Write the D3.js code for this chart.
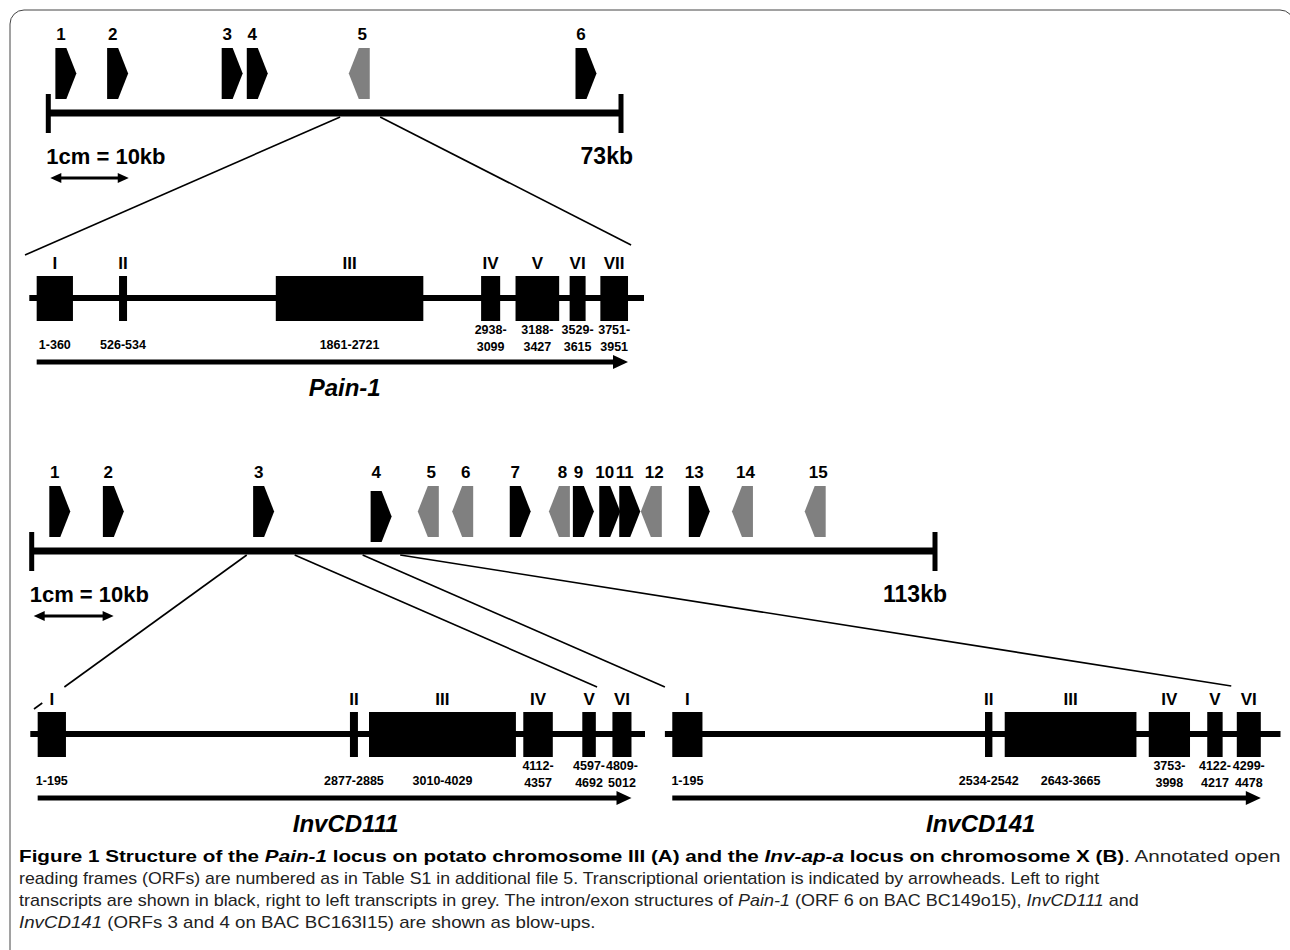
<!DOCTYPE html>
<html>
<head>
<meta charset="utf-8">
<script src="https://cdn.jsdelivr.net/npm/d3@7"></script>
<style>
  body { margin: 0; background: #fff; }
  svg text { font-family: "Liberation Sans", Arial, sans-serif; }
</style>
</head>
<body>
<script>
// ---- locus A : Pain-1 region, 73 kb. ORF left edge in kb, strand (+1 right, -1 left)
var orfA_names  = ["1", "2", "3", "4", "5", "6"];
var orfA_kb     = [0.9, 7.5, 22.1, 25.3, 38.3, 67.2];
var orfA_strand = [1, 1, 1, 1, -1, 1];
var lenA = 73;

// ---- locus B : Inv-ap-a region, 113 kb
var orfB_names  = ["1","2","3","4","5","6","7","8","9","10","11","12","13","14","15"];
var orfB_kb     = [2.2, 8.9, 27.7, 42.4, 48.3, 52.6, 59.8, 64.7, 67.7, 71.0, 73.5, 76.2, 82.2, 87.6, 96.7];
var orfB_strand = [1, 1, 1, 1, -1, -1, 1, -1, 1, 1, 1, -1, 1, -1, -1];
var lenB = 113;

// ---- exon structures (drawn extent along the intron line, 0-1000, and bp ranges)
var exonNums = ["I", "II", "III", "IV", "V", "VI", "VII"];

var pain1Ranges = ["1-360", "526-534", "1861-2721", "2938-3099", "3188-3427", "3529-3615", "3751-3951"];
var pain1Start  = [12, 146, 401, 735, 791, 879, 929];
var pain1End    = [71, 159, 641, 766, 862, 905, 974];

var inv111Ranges = ["1-195", "2877-2885", "3010-4029", "4112-4357", "4597-4692", "4809-5012"];
var inv111Start  = [12, 520, 551, 802, 898, 947];
var inv111End    = [58, 533, 790, 850, 920, 978];

var inv141Ranges = ["1-195", "2534-2542", "2643-3665", "3753-3998", "4122-4217", "4299-4478"];
var inv141Start  = [12, 520, 552, 786, 881, 929];
var inv141End    = [61, 532, 766, 853, 906, 968];

// blow-up lines: locus position (kb) -> gene position (0-1000)
var linkKb   = [37.2, 42.3, 26.9, 32.9, 41.4, 46.1];
var linkGene = ["Pain-1", "Pain-1", "InvCD111", "InvCD111", "InvCD141", "InvCD141"];
var linkUnit = [-7, 979, 6, 922, 0, 920];

// caption, one array per line: [text, style]
var captionLines = [
  [["Figure 1 Structure of the ", "b"], ["Pain-1", "bi"], [" locus on potato chromosome III (A) and the ", "b"],
   ["Inv-ap-a", "bi"], [" locus on chromosome X (B)", "b"], [". Annotated open", ""]],
  [["reading frames (ORFs) are numbered as in Table S1 in additional file 5. Transcriptional orientation is indicated by arrowheads. Left to right", ""]],
  [["transcripts are shown in black, right to left transcripts in grey. The intron/exon structures of ", ""], ["Pain-1", "i"],
   [" (ORF 6 on BAC BC149o15), ", ""], ["InvCD111", "i"], [" and", ""]],
  [["InvCD141", "i"], [" (ORFs 3 and 4 on BAC BC163I15) are shown as blow-ups.", ""]]
];

var svg = d3.select("body").append("svg")
    .attr("width", 1290)
    .attr("height", 950);

// frame (right and bottom edges run off the page)
svg.append("rect")
    .attr("x", 10).attr("y", 10)
    .attr("width", 1284).attr("height", 980)
    .attr("rx", 14)
    .attr("fill", "none")
    .attr("stroke", "#444")
    .attr("stroke-width", 1);

function orfPath(x, y, strand) {
  var w = 21, r = 11, h = 51;
  if (strand > 0)
    return "M" + x + "," + y + "H" + (x + r) + "L" + (x + w) + "," + (y + h / 2) +
           "L" + (x + r) + "," + (y + h) + "H" + x + "Z";
  return "M" + (x + w) + "," + y + "H" + (x + w - r) + "L" + x + "," + (y + h / 2) +
         "L" + (x + w - r) + "," + (y + h) + "H" + (x + w) + "Z";
}

function drawLocus(names, kb, strand, len, x0, x1, lineY, lenLabel, lowered) {
  var x = d3.scaleLinear().domain([0, len]).range([x0, x1]);
  var g = svg.append("g");

  g.append("line")
      .attr("x1", x(0)).attr("x2", x(len))
      .attr("y1", lineY).attr("y2", lineY)
      .attr("stroke", "#000").attr("stroke-width", 7);

  g.selectAll(".tick").data([0, len]).enter().append("line")
      .attr("x1", d => x(d)).attr("x2", d => x(d))
      .attr("y1", lineY - 19).attr("y2", lineY + 20)
      .attr("stroke", "#000").attr("stroke-width", 5);

  var orfs = names.map((n, i) => ({name: n, kb: kb[i], strand: strand[i], dy: n === lowered ? 5 : 0}));

  g.selectAll(".orf").data(orfs).enter().append("path")
      .attr("d", d => orfPath(x(d.kb), lineY - 65 + d.dy, d.strand))
      .attr("fill", d => d.strand > 0 ? "#000" : "#808080");

  g.selectAll(".orflab").data(orfs).enter().append("text")
      .attr("x", d => x(d.kb) + (d.strand > 0 ? 5.5 : 13.5))
      .attr("y", lineY - 73)
      .attr("text-anchor", "middle")
      .attr("font-size", 17).attr("font-weight", "bold")
      .text(d => d.name);

  // scale bar text + length
  g.append("text")
      .attr("x", x(0) - 2).attr("y", lineY + 51)
      .attr("font-size", 22).attr("font-weight", "bold")
      .text("1cm = 10kb");
  g.append("text")
      .attr("x", x(len) + 12).attr("y", lineY + 51)
      .attr("text-anchor", "end")
      .attr("font-size", 23).attr("font-weight", "bold")
      .text(lenLabel);

  // double arrow = 10 kb
  var ay = lineY + 65, ax0 = x(0) + 2, ax1 = x(10) + 2;
  g.append("line")
      .attr("x1", ax0 + 8).attr("x2", ax1 - 8)
      .attr("y1", ay).attr("y2", ay)
      .attr("stroke", "#000").attr("stroke-width", 3);
  g.append("path").attr("d", "M" + ax0 + "," + ay + "l11,-5v10z");
  g.append("path").attr("d", "M" + ax1 + "," + ay + "l-11,-5v10z");
  return x;
}

function drawGene(ranges, st, en, x0, x1, Y, name) {
  var x = d3.scaleLinear().domain([0, 1000]).range([x0, x1]);
  var g = svg.append("g");
  var exons = ranges.map((r, i) => ({num: exonNums[i], range: r, s: st[i], e: en[i]}));
  exons.forEach(d => d.c = (x(d.s) + x(d.e)) / 2);

  g.append("line")
      .attr("x1", x(0)).attr("x2", x(1000))
      .attr("y1", Y).attr("y2", Y)
      .attr("stroke", "#000").attr("stroke-width", 6);

  g.selectAll(".exon").data(exons).enter().append("rect")
      .attr("x", d => x(d.s)).attr("width", d => x(d.e) - x(d.s))
      .attr("y", Y - 22).attr("height", 45)
      .attr("fill", "#000");

  g.selectAll(".num").data(exons).enter().append("text")
      .attr("x", d => d.c).attr("y", Y - 29)
      .attr("text-anchor", "middle")
      .attr("font-size", 17).attr("font-weight", "bold")
      .text(d => d.num);

  // range labels: split in two lines when neighbours are close
  exons.forEach((d, i) => {
    var prev = i > 0 ? d.c - exons[i - 1].c : 999;
    var next = i < exons.length - 1 ? exons[i + 1].c - d.c : 999;
    var t = g.append("text")
        .attr("text-anchor", "middle")
        .attr("font-size", 12.5).attr("font-weight", "bold");
    if (Math.min(prev, next) < 60) {
      var p = d.range.split("-");
      t.append("tspan").attr("x", d.c).attr("y", Y + 36).text(p[0] + "-");
      t.append("tspan").attr("x", d.c).attr("y", Y + 53).text(p[1]);
    } else {
      t.attr("x", d.c).attr("y", Y + 51).text(d.range);
    }
  });

  // transcript arrow
  var a0 = x(st[0]), a1 = x(en[en.length - 1]), ay = Y + 64;
  g.append("line")
      .attr("x1", a0).attr("x2", a1 - 12)
      .attr("y1", ay).attr("y2", ay)
      .attr("stroke", "#000").attr("stroke-width", 5);
  g.append("path").attr("d", "M" + a1 + "," + ay + "l-15,-7v14z");

  g.append("text")
      .attr("x", (x(0) + x(1000)) / 2 + 8).attr("y", Y + 98)
      .attr("text-anchor", "middle")
      .attr("font-size", 24).attr("font-weight", "bold").attr("font-style", "italic")
      .text(name);
  return x;
}

// blow-up lines are drawn first so the marks sit on top
var linkLayer = svg.append("g");

var xA = drawLocus(orfA_names, orfA_kb, orfA_strand, lenA, 48.3, 621, 113, "73kb", null);
var xB = drawLocus(orfB_names, orfB_kb, orfB_strand, lenB, 31.7, 935, 551, "113kb", "4");

var genes = {
  "Pain-1":   {x: drawGene(pain1Ranges, pain1Start, pain1End, 29.3, 644, 298, "Pain-1"), Y: 298, locus: xA, lineY: 113},
  "InvCD111": {x: drawGene(inv111Ranges, inv111Start, inv111End, 30.3, 645, 734, "InvCD111"), Y: 734, locus: xB, lineY: 551},
  "InvCD141": {x: drawGene(inv141Ranges, inv141Start, inv141End, 664.9, 1280.5, 734, "InvCD141"), Y: 734, locus: xB, lineY: 551}
};

// how far above the intron line each blow-up line stops
var linkDrop = [43, 53, 25, 47, 47, 48];

linkKb.forEach((k, i) => {
  var gn = genes[linkGene[i]];
  var p0 = [gn.locus(k), gn.lineY + 4];
  var p1 = [gn.x(linkUnit[i]), gn.Y - linkDrop[i]];
  var segs = [[p0, p1]];
  if (i === 2) {
    // the first InvCD111 line is interrupted behind the exon label "I"
    var at = y => [p0[0] + (p1[0] - p0[0]) * (y - p0[1]) / (p1[1] - p0[1]), y];
    segs = [[p0, at(gn.Y - 47)], [at(gn.Y - 31), p1]];
  }
  segs.forEach(s => {
    linkLayer.append("line")
        .attr("x1", s[0][0]).attr("y1", s[0][1])
        .attr("x2", s[1][0]).attr("y2", s[1][1])
        .attr("stroke", "#000").attr("stroke-width", 1.6);
  });
});

// caption
var capEnds = [1281, 1100, 1140, 596];
captionLines.forEach((line, i) => {
  var t = svg.append("text")
      .attr("x", 0).attr("y", 0)
      .attr("font-size", 16)
      .attr("fill", "#222");
  line.forEach(part => {
    t.append("tspan")
        .attr("font-weight", part[1].indexOf("b") >= 0 ? "bold" : "normal")
        .attr("font-style", part[1].indexOf("i") >= 0 ? "italic" : "normal")
        .attr("fill", part[1].indexOf("b") >= 0 ? "#000" : "#222")
        .text(part[0]);
  });
  var w = t.node().getComputedTextLength();
  var sx = (capEnds[i] - 19) / w;
  t.attr("transform", "translate(19," + (862 + i * 22) + ") scale(" + sx + ",1)");
});
</script>
</body>
</html>
